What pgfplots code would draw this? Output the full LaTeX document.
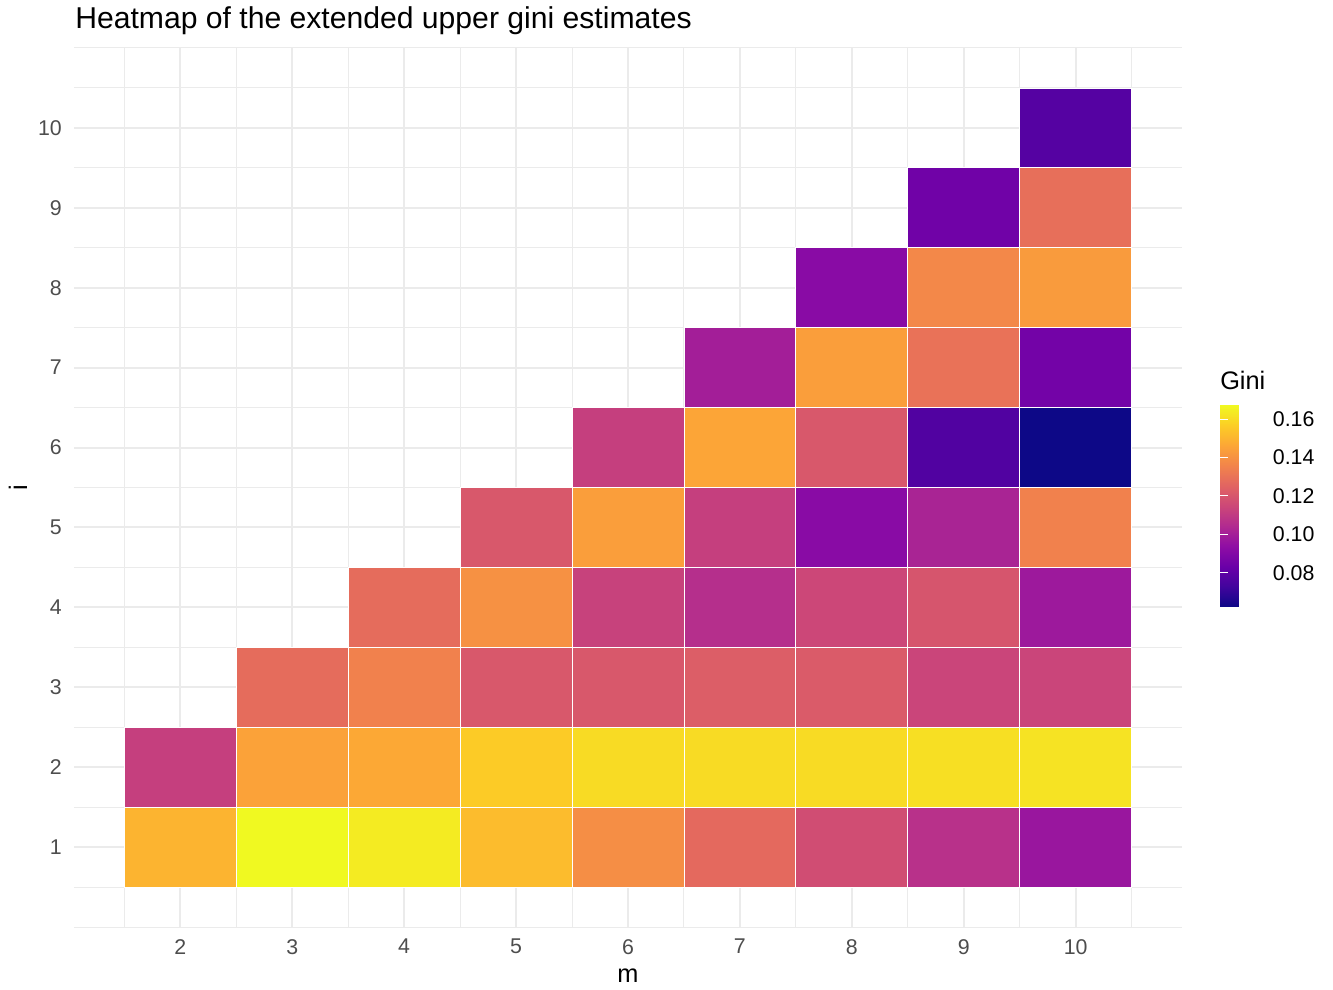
\documentclass[border=0pt]{standalone}
\usepackage{pgfplots}
\pgfplotsset{compat=1.18}
\usepackage{fontspec}
\setmainfont{Liberation Sans}
\definecolor{gridgray}{RGB}{235,235,235}
\definecolor{ticktext}{RGB}{77,77,77}
\pgfplotsset{colormap={plasma}{rgb255=(13,8,135) rgb255=(65,4,157) rgb255=(106,0,168) rgb255=(143,13,164) rgb255=(177,42,144) rgb255=(204,71,120) rgb255=(225,100,98) rgb255=(242,132,75) rgb255=(252,166,54) rgb255=(252,206,37) rgb255=(240,249,33)}}
\pgfdeclareplotmark{tile}{%
  \pgfpathrectangle{\pgfqpoint{-41.97pt}{-29.966pt}}{\pgfqpoint{83.94pt}{59.932pt}}%
  \pgfusepathqfillstroke}
\begin{document}
\begin{tikzpicture}
\useasboundingbox (0,0) rectangle (999.75pt,741.75pt);
\begin{axis}[
  at={(55.5pt,46.5pt)}, anchor=south west,
  scale only axis, width=831pt, height=659.25pt,
  xmin=1.05, xmax=10.95, ymin=0, ymax=11,
  xtick={2,...,10}, ytick={1,...,10},
  minor xtick={1.5,2.5,...,10.5},
  minor ytick={0,0.5,1.5,2.5,3.5,4.5,5.5,6.5,7.5,8.5,9.5,10.5,11},
  grid=both,
  major grid style={gridgray, line width=1.5pt},
  minor grid style={gridgray, line width=0.75pt},
  axis line style={draw=none},
  major tick length=0pt, minor tick length=0pt,
  tick style={draw=none},
  /pgf/number format/assume math mode=true,
  xticklabel style={font=\fontsize{16}{16}\selectfont, text=ticktext, anchor=north, inner sep=0pt, yshift=-9pt},
  yticklabel style={font=\fontsize{16}{16}\selectfont, text=ticktext, anchor=east, inner sep=0pt, xshift=-9pt},
  colormap name=plasma,
  point meta min=0.0623, point meta max=0.1673,
  colorbar,
  colorbar style={
    at={(1.0343,0.5939)}, anchor=north west,
    width=30pt, height=151.5pt,
    ytick={0.08,0.10,0.12,0.14,0.16},
    yticklabels={0.08,0.10,0.12,0.14,0.16},
    yticklabel style={font=\fontsize{16}{16}\selectfont, text=black, anchor=west, inner sep=0pt, xshift=9.5pt},
    axis line style={draw=none},
    major tick length=6pt,
    tick style={white, line width=0.75pt},
  },
]
\addplot[scatter, only marks, mark=tile, point meta=explicit,
  scatter/use mapped color={draw=white, fill=mapped color},
  mark options={line width=0.6pt}]
table[x=m, y=i, meta=g] {
m i g
2 1 0.150
2 2 0.112
3 1 0.1673
3 2 0.145
3 3 0.128
4 1 0.164
4 2 0.147
4 3 0.135
4 4 0.128
5 1 0.152
5 2 0.156
5 3 0.121
5 4 0.140
5 5 0.121
6 1 0.139
6 2 0.160
6 3 0.121
6 4 0.113
6 5 0.144
6 6 0.112
7 1 0.127
7 2 0.160
7 3 0.123
7 4 0.106
7 5 0.112
7 6 0.146
7 7 0.100
8 1 0.117
8 2 0.160
8 3 0.122
8 4 0.115
8 5 0.092
8 6 0.121
8 7 0.144
8 8 0.092
9 1 0.107
9 2 0.161
9 3 0.114
9 4 0.120
9 5 0.102
9 6 0.077
9 7 0.130
9 8 0.137
9 9 0.085
10 1 0.097
10 2 0.162
10 3 0.114
10 4 0.098
10 5 0.135
10 6 0.0623
10 7 0.086
10 8 0.143
10 9 0.129
10 10 0.078
};
\end{axis}
\node[anchor=base west, inner sep=0pt, font=\fontsize{22.6}{22.6}\selectfont] at (56.25pt,720pt) {Heatmap of the extended upper gini estimates};
\node[anchor=base, inner sep=0pt, font=\fontsize{19}{19}\selectfont] at (471pt,5.25pt) {m};
\node[anchor=base, inner sep=0pt, rotate=90, font=\fontsize{19}{19}\selectfont] at (20.25pt,376.1pt) {i};
\node[anchor=base west, inner sep=0pt, font=\fontsize{19}{19}\selectfont] at (915pt,449.25pt) {Gini};
\end{tikzpicture}
\end{document}
